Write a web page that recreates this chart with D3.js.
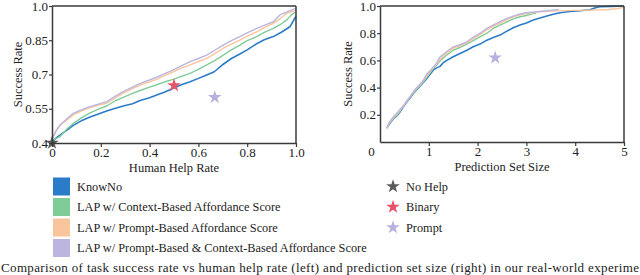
<!DOCTYPE html>
<html>
<head>
<meta charset="utf-8">
<script src="https://cdn.jsdelivr.net/npm/d3@7"></script>
<style>
  html, body { margin: 0; padding: 0; background: #fff; overflow: hidden; }
  svg { display: block; }
  svg text { font-family: "Liberation Serif", "Times New Roman", Times, serif; }
</style>
</head>
<body>
<svg id="chart" width="640" height="275"></svg>
<script>
// ---------------- data ----------------
const seriesNames = ["KnowNo", "LAP w/ Context-Based Affordance Score", "LAP w/ Prompt-Based Affordance Score", "LAP w/ Prompt-Based & Context-Based Affordance Score"];
const seriesColors = ["#2a7cc9", "#80cc98", "#f9c59c", "#bcb5df"];

// Left: success rate vs human help rate  [helpRate, successRate]
const leftKnowNo = [[0,0.405],[0.02,0.425],[0.04,0.44],[0.06,0.455],[0.087,0.477],[0.12,0.497],[0.156,0.514],[0.19,0.527],[0.224,0.54],[0.26,0.552],[0.292,0.562],[0.33,0.572],[0.361,0.586],[0.40,0.598],[0.429,0.61],[0.46,0.622],[0.497,0.64],[0.53,0.655],[0.566,0.668],[0.60,0.683],[0.634,0.698],[0.665,0.712],[0.702,0.745],[0.735,0.77],[0.77,0.79],[0.80,0.808],[0.839,0.835],[0.87,0.852],[0.907,0.866],[0.94,0.885],[0.975,0.909],[1.0,0.955]];
const leftContext = [[0,0.41],[0.033,0.428],[0.06,0.46],[0.087,0.485],[0.12,0.51],[0.156,0.532],[0.19,0.548],[0.224,0.562],[0.26,0.585],[0.292,0.6],[0.33,0.617],[0.361,0.63],[0.40,0.645],[0.429,0.655],[0.46,0.667],[0.497,0.679],[0.53,0.692],[0.566,0.705],[0.60,0.722],[0.634,0.742],[0.665,0.76],[0.702,0.785],[0.735,0.808],[0.77,0.829],[0.80,0.848],[0.839,0.866],[0.87,0.884],[0.907,0.902],[0.935,0.918],[0.962,0.939],[0.98,0.96],[1.0,0.975]];
const leftPrompt = [[0,0.415],[0.02,0.46],[0.04,0.485],[0.06,0.5],[0.087,0.523],[0.12,0.54],[0.156,0.555],[0.19,0.566],[0.224,0.574],[0.26,0.598],[0.292,0.618],[0.33,0.638],[0.361,0.654],[0.40,0.668],[0.429,0.679],[0.46,0.695],[0.497,0.712],[0.53,0.728],[0.566,0.742],[0.60,0.757],[0.634,0.771],[0.665,0.79],[0.702,0.815],[0.735,0.833],[0.77,0.851],[0.80,0.868],[0.839,0.887],[0.87,0.905],[0.907,0.924],[0.935,0.945],[0.962,0.968],[1.0,0.982]];
const leftBoth = [[0,0.415],[0.015,0.45],[0.033,0.479],[0.06,0.505],[0.087,0.53],[0.12,0.545],[0.156,0.559],[0.19,0.57],[0.224,0.581],[0.26,0.605],[0.292,0.625],[0.33,0.645],[0.361,0.661],[0.40,0.676],[0.429,0.688],[0.46,0.703],[0.497,0.72],[0.53,0.738],[0.566,0.756],[0.60,0.77],[0.634,0.785],[0.665,0.805],[0.702,0.829],[0.735,0.848],[0.77,0.866],[0.80,0.882],[0.839,0.902],[0.87,0.915],[0.907,0.931],[0.934,0.961],[0.965,0.975],[1.0,0.99]];

// Right: success rate vs prediction set size  [setSize, successRate]
const rightKnowNo = [[0.137,0.102],[0.2,0.135],[0.273,0.171],[0.34,0.19],[0.41,0.22],[0.48,0.26],[0.547,0.294],[0.62,0.325],[0.683,0.356],[0.75,0.385],[0.82,0.41],[0.89,0.44],[0.957,0.466],[1.03,0.5],[1.09,0.528],[1.16,0.545],[1.23,0.556],[1.30,0.585],[1.37,0.6],[1.5,0.627],[1.64,0.651],[1.78,0.675],[1.91,0.7],[2.05,0.72],[2.19,0.749],[2.32,0.768],[2.46,0.786],[2.6,0.815],[2.73,0.84],[2.87,0.86],[3.0,0.875],[3.14,0.897],[3.28,0.912],[3.42,0.926],[3.55,0.94],[3.69,0.95],[3.89,0.96],[4.1,0.965],[4.3,0.972],[4.4,0.985],[4.5,0.995],[4.75,0.997],[5.0,1.0]];
const rightContext = [[0.137,0.1],[0.2,0.14],[0.273,0.175],[0.34,0.195],[0.41,0.225],[0.48,0.265],[0.547,0.298],[0.62,0.33],[0.683,0.36],[0.75,0.39],[0.82,0.415],[0.89,0.445],[0.957,0.475],[1.03,0.51],[1.09,0.54],[1.16,0.565],[1.23,0.595],[1.30,0.62],[1.37,0.64],[1.5,0.675],[1.64,0.695],[1.78,0.72],[1.91,0.745],[2.05,0.773],[2.19,0.8],[2.32,0.835],[2.46,0.86],[2.6,0.884],[2.73,0.905],[2.87,0.921],[3.0,0.93],[3.1,0.94],[3.2,0.948]];
const rightPrompt = [[0.137,0.1],[0.2,0.145],[0.273,0.18],[0.34,0.2],[0.41,0.235],[0.48,0.27],[0.547,0.3],[0.62,0.335],[0.683,0.365],[0.75,0.395],[0.82,0.42],[0.89,0.45],[0.957,0.485],[1.03,0.52],[1.09,0.545],[1.16,0.575],[1.23,0.605],[1.30,0.635],[1.37,0.655],[1.5,0.69],[1.64,0.705],[1.78,0.73],[1.91,0.76],[2.05,0.79],[2.19,0.825],[2.32,0.85],[2.46,0.875],[2.6,0.9],[2.73,0.92],[2.87,0.935],[3.0,0.945],[3.21,0.955],[3.5,0.962],[3.96,0.968],[4.3,0.97],[4.64,0.972],[4.85,0.98],[5.0,0.99]];
const rightBoth = [[0.137,0.105],[0.2,0.15],[0.273,0.185],[0.34,0.21],[0.41,0.24],[0.48,0.262],[0.547,0.3],[0.62,0.335],[0.683,0.37],[0.75,0.4],[0.82,0.425],[0.89,0.455],[0.957,0.5],[1.03,0.525],[1.09,0.55],[1.16,0.58],[1.23,0.626],[1.30,0.645],[1.37,0.665],[1.5,0.7],[1.64,0.715],[1.78,0.737],[1.91,0.77],[2.05,0.8],[2.19,0.835],[2.32,0.86],[2.46,0.885],[2.6,0.909],[2.73,0.925],[2.87,0.941],[3.0,0.95],[3.21,0.958],[3.42,0.965],[3.66,0.975]];

// Star markers
const markerNames = ["No Help", "Binary", "Prompt"];
const markerColors = ["#5b5b5b", "#ea5269", "#b6b1de"];
const leftMarkers = [[0, 0.4, 0], [0.5, 0.652, 1], [0.667, 0.60, 2]]; // [helpRate, success, markerIndex]
const rightMarkers = [[2.36, 0.62, 2]];

// Ticks
const leftXTicks = [0, 0.2, 0.4, 0.6, 0.8, 1.0];
const leftXTickLabels = ["0", "0.2", "0.4", "0.6", "0.8", "1.0"];
const leftYTicks = [0.4, 0.55, 0.7, 0.85, 1.0];
const leftYTickLabels = ["0.4", "0.55", "0.7", "0.85", "1.0"];
const rightXTicks = [0, 1, 2, 3, 4, 5];
const rightXTickLabels = ["0", "1", "2", "3", "4", "5"];
const rightYTicks = [0.2, 0.4, 0.6, 0.8, 1.0];
const rightYTickLabels = ["0.2", "0.4", "0.6", "0.8", "1.0"];

// Caption line as visible in the picture (cut at the right edge)
const captionText = "Comparison of task success rate vs human help rate (left) and prediction set size (right) in our real-world experime";

// ---------------- drawing ----------------
const FONT = "Liberation Serif, Times New Roman, Times, serif";
const svg = d3.select("#chart").attr("font-family", FONT);
const axisColor = "#3a3a3a";
const tickFont = 13;
const titleFont = 12.5;
const legendFont = 12.3;

function drawPanel(cfg) {
  const x = d3.scaleLinear().domain(cfg.xDomain).range([cfg.left, cfg.right]);
  const y = d3.scaleLinear().domain(cfg.yDomain).range([cfg.bottom, cfg.top]);
  const g = svg.append("g");

  const line = d3.line().x(d => x(d[0])).y(d => y(d[1]));
  cfg.series.forEach((s, i) => {
    g.append("path").datum(s).attr("d", line)
      .attr("fill", "none").attr("stroke", seriesColors[i])
      .attr("stroke-width", i === 0 ? 1.6 : 1.4).attr("stroke-linejoin", "round");
  });
  const star = d3.symbol().type(d3.symbolStar).size(58);
  cfg.markers.forEach(m => {
    g.append("path").attr("d", star)
      .attr("transform", `translate(${x(m[0])},${y(m[1])})`)
      .attr("fill", markerColors[m[2]]);
  });

  // frame top/right
  g.append("line").attr("x1", cfg.left).attr("x2", cfg.right).attr("y1", cfg.top).attr("y2", cfg.top)
    .attr("stroke", axisColor).attr("stroke-width", 1.5);
  g.append("line").attr("x1", cfg.right).attr("x2", cfg.right).attr("y1", cfg.top).attr("y2", cfg.bottom)
    .attr("stroke", axisColor).attr("stroke-width", 1.5);

  const xAxis = d3.axisBottom(x).tickValues(cfg.xTicks)
    .tickFormat((d, i) => cfg.xLabels[i]).tickSizeInner(4).tickSizeOuter(0).tickPadding(1);
  const gx = g.append("g").attr("transform", `translate(0,${cfg.bottom})`).call(xAxis);
  const yAxis = d3.axisLeft(y).tickValues(cfg.yTicks)
    .tickFormat((d, i) => cfg.yLabels[i]).tickSizeInner(3).tickSizeOuter(0).tickPadding(1);
  const gy = g.append("g").attr("transform", `translate(${cfg.left},0)`).call(yAxis);
  [gx, gy].forEach(a => {
    a.attr("font-family", FONT).attr("font-size", tickFont);
    a.selectAll("path.domain").attr("stroke", axisColor).attr("stroke-width", 1.5);
    a.selectAll(".tick line").attr("stroke", axisColor).attr("stroke-width", 1.2);
    a.selectAll(".tick text").attr("fill", "#222");
  });
  if (cfg.shiftZero) {
    gx.selectAll(".tick").filter(d => d === 0).select("text").attr("dx", -9);
    gx.selectAll(".tick").filter(d => d === 0).select("line").remove();
  }

  g.append("text").attr("x", (cfg.left + cfg.right) / 2).attr("y", cfg.bottom + 29)
    .attr("text-anchor", "middle").attr("font-size", titleFont).attr("fill", "#222").text(cfg.xTitle);
  g.append("text").attr("transform", `translate(${cfg.yTitleX},${(cfg.top + cfg.bottom) / 2}) rotate(-90)`)
    .attr("text-anchor", "middle").attr("font-size", titleFont).attr("fill", "#222").text("Success Rate");
}

drawPanel({
  left: 52, right: 296, top: 6, bottom: 143,
  xDomain: [0, 1], yDomain: [0.4, 1.0],
  series: [leftKnowNo, leftContext, leftPrompt, leftBoth],
  markers: leftMarkers,
  xTicks: leftXTicks, xLabels: leftXTickLabels, yTicks: leftYTicks, yLabels: leftYTickLabels,
  xTitle: "Human Help Rate", yTitleX: 22, shiftZero: false
});
drawPanel({
  left: 380, right: 624, top: 6, bottom: 142,
  xDomain: [0, 5], yDomain: [0, 1.0],
  series: [rightKnowNo, rightContext, rightPrompt, rightBoth],
  markers: rightMarkers,
  xTicks: rightXTicks, xLabels: rightXTickLabels, yTicks: rightYTicks, yLabels: rightYTickLabels,
  xTitle: "Prediction Set Size", yTitleX: 352, shiftZero: true
});

// Legend: series swatches
const legendRowY = d3.scaleLinear().domain([0, 1]).range([186.5, 207]);
const leg = svg.append("g");
seriesNames.forEach((name, i) => {
  const cy = legendRowY(i);
  leg.append("rect").attr("x", 53).attr("y", cy - 9).attr("width", 17).attr("height", 18).attr("fill", seriesColors[i]);
  leg.append("text").attr("x", 77).attr("y", cy + 4.3).attr("font-size", legendFont).attr("fill", "#222").text(name);
});
// Legend: markers
const legendStar = d3.symbol().type(d3.symbolStar).size(58);
markerNames.forEach((name, i) => {
  const cy = legendRowY(i);
  leg.append("path").attr("d", legendStar).attr("transform", `translate(393,${cy})`).attr("fill", markerColors[i]);
  leg.append("text").attr("x", 406).attr("y", cy + 4.3).attr("font-size", legendFont).attr("fill", "#222").text(name);
});

// Caption line
svg.append("text").attr("x", 1).attr("y", 271.5).attr("font-size", 13).attr("fill", "#222")
  .attr("textLength", 638).attr("lengthAdjust", "spacing").text(captionText);
</script>
</body>
</html>
